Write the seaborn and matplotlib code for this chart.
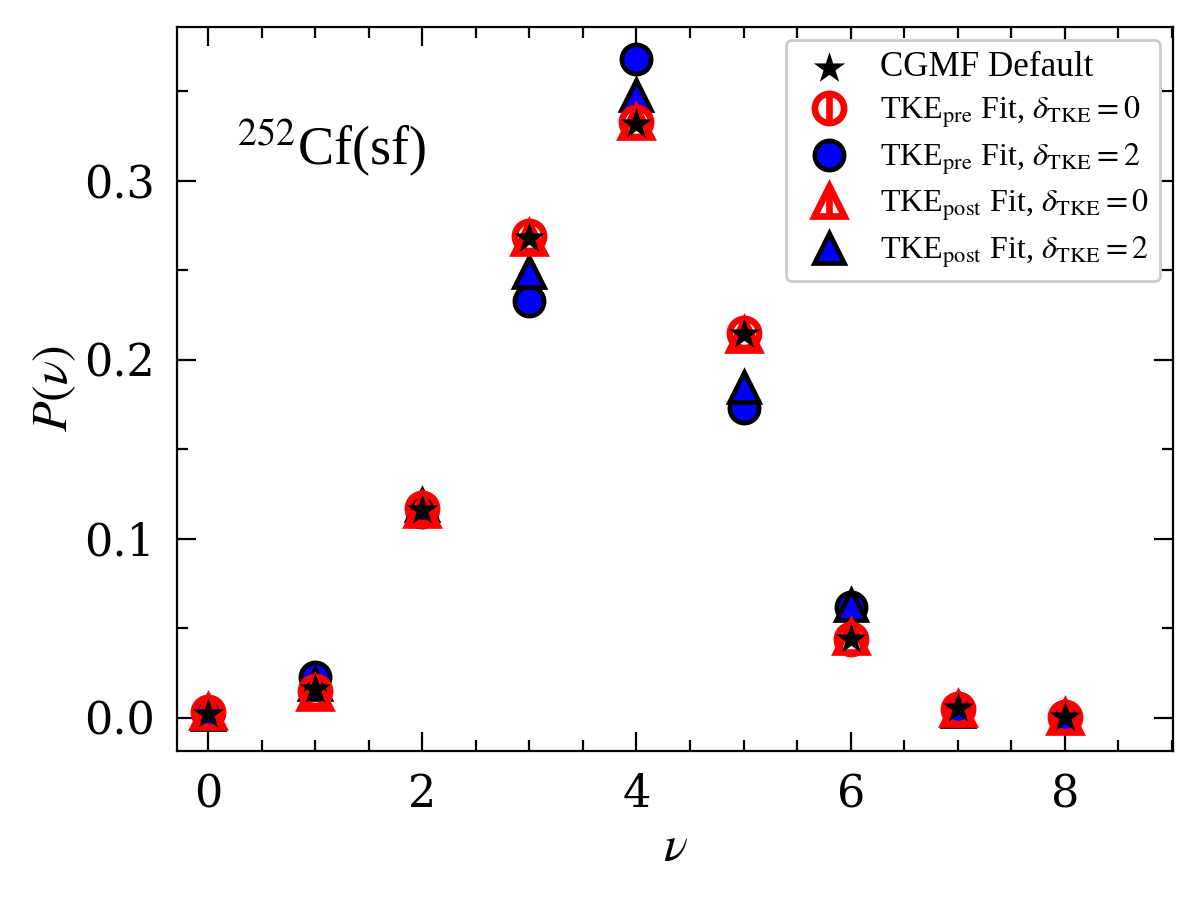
import numpy as np
import pandas as pd
import matplotlib
matplotlib.use("Agg")
import matplotlib.pyplot as plt
import seaborn as sns
from matplotlib.ticker import MultipleLocator

nu = [0, 1, 2, 3, 4, 5, 6, 7, 8]
cgmf_default = [0.002, 0.016, 0.116, 0.268, 0.332, 0.2145, 0.044, 0.0055, 0.0003]
pre_d0 = [0.003, 0.015, 0.117, 0.269, 0.333, 0.215, 0.044, 0.005, 0.0003]
pre_d2 = [0.002, 0.023, 0.115, 0.233, 0.368, 0.173, 0.062, 0.005, 0.0003]
post_d0 = [0.003, 0.014, 0.116, 0.268, 0.333, 0.214, 0.045, 0.005, 0.0003]
post_d2 = [0.002, 0.019, 0.119, 0.249, 0.348, 0.185, 0.063, 0.004, 0.0002]

sns.set_style("ticks")
plt.rcParams["font.family"] = ["DejaVu Serif"]
plt.rcParams["mathtext.fontset"] = "stix"
for k in ["text.color", "axes.labelcolor", "xtick.color", "ytick.color", "axes.edgecolor"]:
    plt.rcParams[k] = "black"

TIMES = ["Liberation Serif", "DejaVu Serif"]

fig = plt.figure(figsize=(6, 4.5), dpi=200)
ax = fig.add_axes([0.1475, 0.1656, 0.83, 0.8044])

zero = np.zeros(len(nu))
ms = 10.5
mew = 1.7

h_pre2, = ax.plot(nu, pre_d2, "o", mfc="blue", mec="black", ms=ms, mew=mew, zorder=3,
                  label=r"TKE$_{\rm pre}$ Fit, $\delta_{\rm TKE}=2$")
h_post2, = ax.plot(nu, post_d2, "^", mfc="blue", mec="black", ms=ms, mew=mew, zorder=4,
                   label=r"TKE$_{\rm post}$ Fit, $\delta_{\rm TKE}=2$")
h_pre0 = ax.errorbar(nu, pre_d0, yerr=zero, fmt="o", color="red", mfc="none", mec="red",
                     ms=ms, mew=2.4, elinewidth=2.4, capsize=0, zorder=5,
                     label=r"TKE$_{\rm pre}$ Fit, $\delta_{\rm TKE}=0$")
h_post0 = ax.errorbar(nu, post_d0, yerr=zero, fmt="^", color="red", mfc="none", mec="red",
                      ms=ms, mew=2.4, elinewidth=2.4, capsize=0, zorder=6,
                      label=r"TKE$_{\rm post}$ Fit, $\delta_{\rm TKE}=0$")

df = pd.DataFrame({"nu": nu, "P": cgmf_default})
sns.scatterplot(data=df, x="nu", y="P", marker="*", color="black", s=140,
                edgecolor="black", linewidth=0, zorder=7, ax=ax, label="CGMF Default")

handles, labels = ax.get_legend_handles_labels()
lab2h = dict(zip(labels, handles))
order = ["CGMF Default",
         r"TKE$_{\rm pre}$ Fit, $\delta_{\rm TKE}=0$",
         r"TKE$_{\rm pre}$ Fit, $\delta_{\rm TKE}=2$",
         r"TKE$_{\rm post}$ Fit, $\delta_{\rm TKE}=0$",
         r"TKE$_{\rm post}$ Fit, $\delta_{\rm TKE}=2$"]
leg = ax.legend([lab2h[k] for k in order], order, loc="upper right",
                prop={"family": TIMES, "size": 11.5},
                frameon=True, framealpha=1.0, edgecolor="0.8", fancybox=True,
                handletextpad=0.6, borderpad=0.35, labelspacing=0.35, borderaxespad=0.4)
leg.get_texts()[0].set_fontsize(12.6)

ax.set_xlim(-0.29, 9.01)
ax.set_ylim(-0.0185, 0.386)
ax.xaxis.set_major_locator(MultipleLocator(2))
ax.xaxis.set_minor_locator(MultipleLocator(0.5))
ax.yaxis.set_major_locator(MultipleLocator(0.1))
ax.yaxis.set_minor_locator(MultipleLocator(0.05))
ax.tick_params(which="both", direction="in", top=True, right=True, labelsize=16, pad=8)
ax.tick_params(which="major", length=7, width=0.8)
ax.tick_params(which="minor", length=4, width=0.8)
for s in ax.spines.values():
    s.set_linewidth(0.8)

ax.set_xlabel(r"$\nu$", fontsize=18, labelpad=2)
ax.set_ylabel(r"$P(\nu)$", fontsize=18, labelpad=2)
ax.text(0.06, 0.81, r"$^{252}$Cf(sf)", transform=ax.transAxes, fontsize=19.5, family=TIMES)

fig.savefig("out.png", dpi=200)
